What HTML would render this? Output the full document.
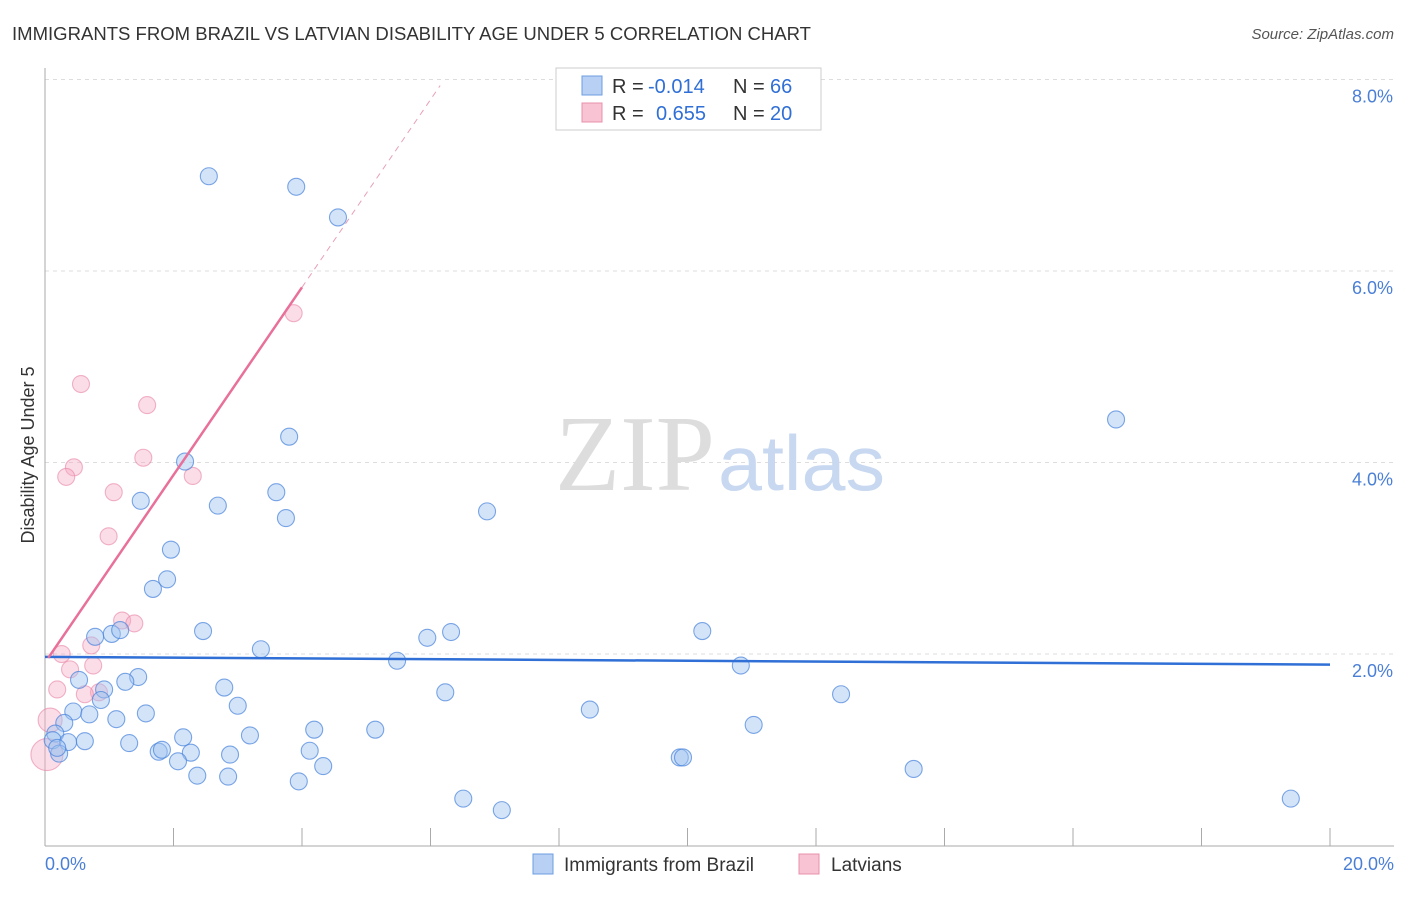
<!DOCTYPE html>
<html><head><meta charset="utf-8"><style>
body{margin:0;background:#fff;font-family:"Liberation Sans",sans-serif}
svg text{font-family:"Liberation Sans",sans-serif}
</style></head><body>
<svg id="c" width="1406" height="892" xmlns="http://www.w3.org/2000/svg">
<text x="12" y="40" font-size="18" fill="#333" textLength="799" lengthAdjust="spacingAndGlyphs">IMMIGRANTS FROM BRAZIL VS LATVIAN DISABILITY AGE UNDER 5 CORRELATION CHART</text>
<text x="1394" y="39" font-size="15" fill="#555" font-style="italic" text-anchor="end">Source: ZipAtlas.com</text>
<g id="grid"></g>
<text x="555" y="490" font-size="108" fill="#ddd" textLength="160" lengthAdjust="spacingAndGlyphs" style="font-family:'Liberation Serif',serif">ZIP</text>
<text x="718" y="490" font-size="78" fill="#c8d8f0" textLength="167" lengthAdjust="spacingAndGlyphs">atlas</text>
<g id="pts"></g>
<g id="lines"></g>
<text transform="translate(34,455) rotate(-90)" font-size="18" fill="#333" text-anchor="middle">Disability Age Under 5</text>
<text x="45" y="870" font-size="18" fill="#4a7fd6">0.0%</text>
<text x="1394" y="870" font-size="18" fill="#4a7fd6" text-anchor="end">20.0%</text>
<g>
<rect x="556" y="68" width="265" height="62" fill="#fff" stroke="#ccc"/>
<rect x="582" y="76" width="20" height="19" fill="#b8d0f4" stroke="#6c9de0"/>
<rect x="582" y="103" width="20" height="19" fill="#f8c4d4" stroke="#e890aa"/>
<text x="612" y="93" font-size="20" fill="#333">R =</text>
<text x="648" y="93" font-size="20" fill="#2f6fd6">-0.014</text>
<text x="733" y="93" font-size="20" fill="#333">N =</text>
<text x="770" y="93" font-size="20" fill="#2f6fd6">66</text>
<text x="612" y="120" font-size="20" fill="#333">R =</text>
<text x="656" y="120" font-size="20" fill="#2f6fd6">0.655</text>
<text x="733" y="120" font-size="20" fill="#333">N =</text>
<text x="770" y="120" font-size="20" fill="#2f6fd6">20</text>
</g>
<g>
<rect x="533" y="854" width="20" height="20" fill="#b8d0f4" stroke="#6c9de0"/>
<text x="564" y="871" font-size="19" fill="#333">Immigrants from Brazil</text>
<rect x="799" y="854" width="20" height="20" fill="#f8c4d4" stroke="#e890aa"/>
<text x="831" y="871" font-size="19" fill="#333">Latvians</text>
</g>
</svg>
<script>
const xTicks=[0,2,4,6,8,10,12,14,16,18,20];
const yTicks=[2,4,6,8];
const yTickLabels=["2.0%","4.0%","6.0%","8.0%"];
const brazilX=[2.55,3.91,4.56,16.67,3.80,2.18,1.49,2.69,3.60,3.75,6.88,1.96,1.90,1.68,0.78,1.04,1.17,2.46,3.36,5.95,6.32,10.23,5.48,10.83,1.45,1.25,0.53,0.92,2.79,0.87,6.23,12.39,3.00,0.44,0.69,1.57,1.11,0.30,8.48,11.03,4.19,5.14,3.19,0.16,0.12,0.36,0.62,1.31,2.15,1.77,1.82,2.27,2.07,2.88,4.12,0.22,0.19,9.88,9.93,4.33,2.37,2.85,3.95,13.52,6.51,7.11,19.39];
const brazilY=[7.00,6.89,6.57,4.46,4.28,4.02,3.61,3.56,3.70,3.43,3.50,3.10,2.79,2.69,2.19,2.22,2.26,2.25,2.06,2.18,2.24,2.25,1.94,1.89,1.77,1.72,1.74,1.64,1.66,1.53,1.61,1.59,1.47,1.41,1.38,1.39,1.33,1.29,1.43,1.27,1.22,1.22,1.16,1.18,1.11,1.09,1.10,1.08,1.14,0.99,1.01,0.98,0.89,0.96,1.00,0.97,1.03,0.93,0.93,0.84,0.74,0.73,0.68,0.81,0.50,0.38,0.50];
const latX=[3.87,0.56,1.59,0.45,0.33,1.53,2.30,1.07,0.99,1.20,1.39,0.26,0.72,0.75,0.39,0.84,0.62,0.19,0.08,0.03];
const latY=[5.57,4.83,4.61,3.96,3.86,4.06,3.87,3.70,3.24,2.36,2.33,2.01,2.10,1.89,1.85,1.61,1.59,1.64,1.32,0.96];
const latR=[8.5,8.5,8.5,8.5,8.5,8.5,8.5,8.5,8.5,8.5,8.5,8.5,8.5,8.5,8.5,8.5,8.5,8.5,12,16];
const brazilFit=[1.98,1.90];
const latFit=[1.92,0.98];
const X=v=>45+v*64.25, Y=v=>846.5-v*95.75;
const NS="http://www.w3.org/2000/svg";
function mk(t,a,p){const e=document.createElementNS(NS,t);for(const k in a)e.setAttribute(k,a[k]);p.appendChild(e);return e;}
const g=document.getElementById('grid');
yTicks.forEach((v,i)=>{
 const l=mk('line',{x1:45,x2:1394,y1:Y(v)-1,y2:Y(v)-1,stroke:'#ddd','stroke-dasharray':'4,4'},g);
 
 
 const t=mk('text',{x:1393,y:Y(v)+22,'font-size':18,fill:'#4a7fd6','text-anchor':'end'},g);
 t.textContent=yTickLabels[i];
 
 
});
const ax=mk('line',{x1:45,x2:45,y1:68,y2:846,stroke:'#aaa'},g);


const bx=mk('line',{x1:45,x2:1394,y1:846,y2:846,stroke:'#aaa'},g);


xTicks.forEach(v=>{
 const l=mk('line',{x1:X(v),x2:X(v),y1:828,y2:846,stroke:'#aaa'},g);
 
 
});
const p=document.getElementById('pts');
latX.forEach((v,i)=>{
 const c=mk('circle',{cx:X(v),cy:Y(latY[i]),r:latR[i],fill:'rgba(244,170,195,0.4)',stroke:'rgba(232,130,165,0.6)','stroke-width':1.1},p);
 
 
});
brazilX.forEach((v,i)=>{
 const c=mk('circle',{cx:X(v),cy:Y(brazilY[i]),r:8.5,fill:'rgba(160,195,240,0.45)',stroke:'rgba(70,130,220,0.7)','stroke-width':1.1},p);
 
 
});
const L=document.getElementById('lines');
const bl=mk('line',{x1:X(0),y1:Y(brazilFit[0]),x2:X(20),y2:Y(brazilFit[1]),stroke:'#2f6fd6','stroke-width':2.5},L);


const f=x=>latFit[0]+latFit[1]*x;
const pl=mk('line',{x1:X(0.05),y1:Y(f(0.05)),x2:X(4.0),y2:Y(f(4.0)),stroke:'#e8709a','stroke-width':2.5},L);


const pd=mk('line',{x1:X(4.0),y1:Y(f(4.0)),x2:X(6.15),y2:Y(f(6.15)),stroke:'#e8a0b8','stroke-width':1,'stroke-dasharray':'6,5'},L);


</script>
</body></html>
